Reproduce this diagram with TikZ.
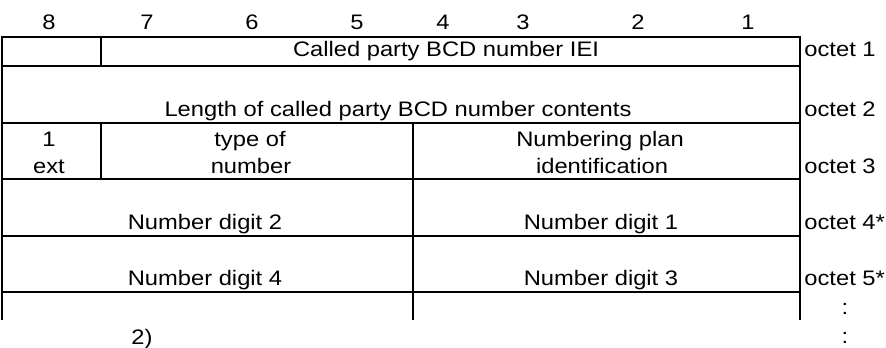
\documentclass[tikz,border=0pt]{standalone}
\usepackage{fontspec}
\setmainfont[FakeStretch=1.13]{Liberation Sans}
\begin{document}
\begin{tikzpicture}[x=0.5pt,y=-0.5pt,
  txt/.style={font=\fontsize{10.5pt}{12pt}\selectfont, inner sep=0pt, anchor=base},
  lbl/.style={txt, anchor=base west},
  rule/.style={line width=1.1pt, line cap=rect}]
\useasboundingbox (0,0) rectangle (886,347);
% header bit numbers
\node[txt] (b8) at (49,30) {8};
\node[txt] (b7) at (147,30) {7};
\node[txt] (b6) at (252,30) {6};
\node[txt] (b5) at (357,30) {5};
\node[txt] (b4) at (443,30) {4};
\node[txt] (b3) at (523,30) {3};
\node[txt] (b2) at (638,30) {2};
\node[txt] (b1) at (748,30) {1};
% grid
\draw[rule] (2,37) -- (800,37);
\draw[rule] (2,66) -- (800,66);
\draw[rule] (2,123) -- (800,123);
\draw[rule] (2,179) -- (800,179);
\draw[rule] (2,236) -- (800,236);
\draw[rule] (2,292) -- (800,292);
\draw[rule,line cap=butt] (2,36.5) -- (2,320);
\draw[rule,line cap=butt] (800,36.5) -- (800,320);
\draw[rule,line cap=butt] (101,37) -- (101,66);
\draw[rule,line cap=butt] (101,123) -- (101,179);
\draw[rule,line cap=butt] (413,123) -- (413,320);
% cell texts
\node[txt] (iei) at (446,57) {Called party BCD number IEI};
\node[txt] (len) at (398,116.5) {Length of called party BCD number contents};
\node[txt] (ext1) at (49,147) {1};
\node[txt] (ext2) at (49,173) {ext};
\node[txt] (ton1) at (250,147) {type of};
\node[txt] (ton2) at (251,173) {number};
\node[txt] (npi1) at (600,147) {Numbering plan};
\node[txt] (npi2) at (602,173) {identification};
\node[txt] (d2) at (205,229) {Number digit 2};
\node[txt] (d1) at (601,229) {Number digit 1};
\node[txt] (d4) at (205,285) {Number digit 4};
\node[txt] (d3) at (601,285) {Number digit 3};
\node[txt] (note) at (142,344) {2)};
% octet labels
\node[lbl] (o1) at (804,57) {octet 1};
\node[lbl] (o2) at (804,116.5) {octet 2};
\node[lbl] (o3) at (804,173) {octet 3};
\node[lbl] (o4) at (804,229) {octet 4*};
\node[lbl] (o5) at (804,285) {octet 5*};
\node[txt] (c1) at (845,314) {:};
\node[txt] (c2) at (845,343) {:};
\end{tikzpicture}
\end{document}
